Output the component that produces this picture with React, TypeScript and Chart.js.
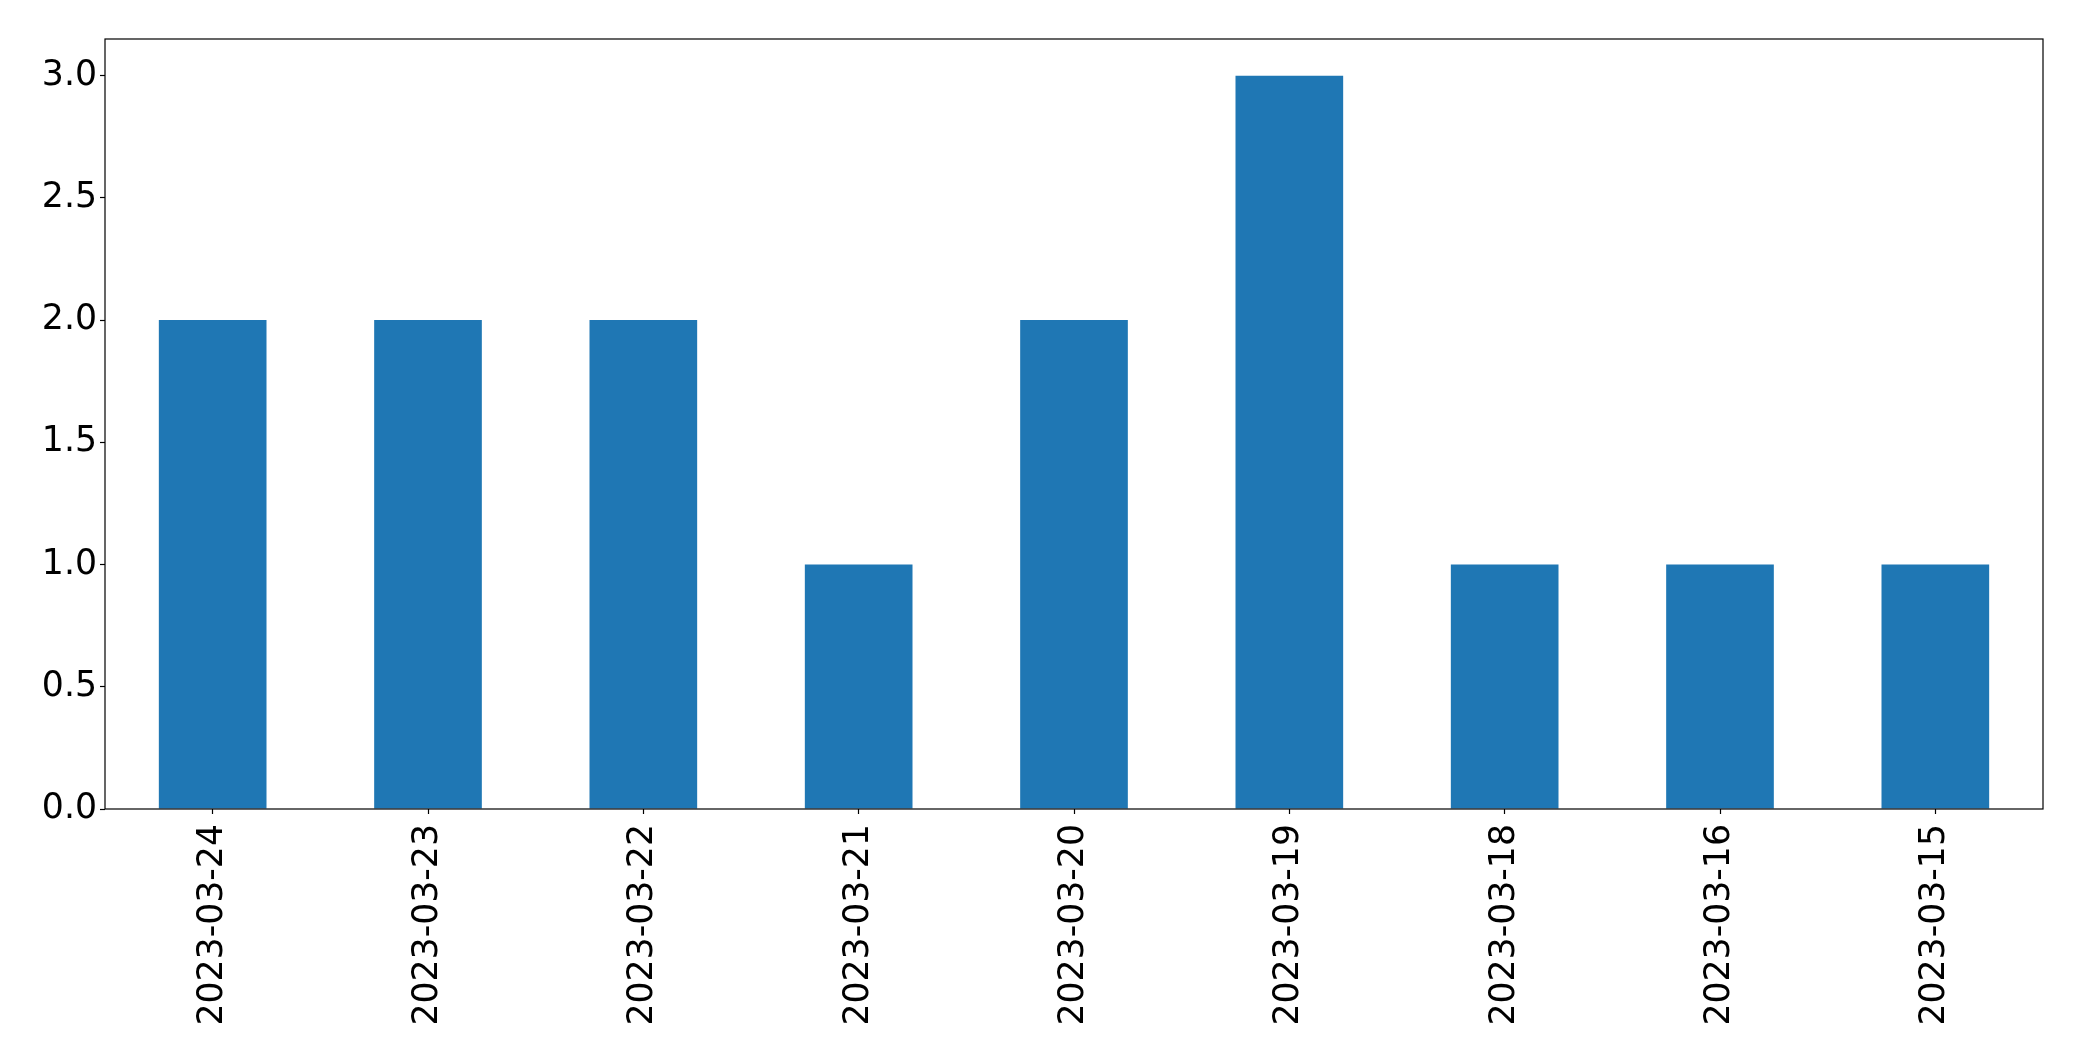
import React, { useEffect, useRef } from "react";
import { Chart, registerables } from "chart.js";

Chart.register(...registerables);

const categories = [
  "2023-03-24",
  "2023-03-23",
  "2023-03-22",
  "2023-03-21",
  "2023-03-20",
  "2023-03-19",
  "2023-03-18",
  "2023-03-16",
  "2023-03-15",
];
const counts = [2, 2, 2, 1, 2, 3, 1, 1, 1];
const yTicks = [0, 0.5, 1.0, 1.5, 2.0, 2.5, 3.0];
const yMax = 3.15;

const W = 2082;
const H = 1061;
const PLOT_LEFT = 105;
const PLOT_RIGHT = 2043;
const PLOT_TOP = 39;
const PLOT_BOTTOM = 809;

const frame = {
  id: "frame",
  afterDraw(chart: any) {
    const { ctx, chartArea } = chart;
    ctx.save();
    ctx.strokeStyle = "#000";
    ctx.lineWidth = 1.2;
    ctx.strokeRect(
      chartArea.left,
      chartArea.top,
      chartArea.right - chartArea.left,
      chartArea.bottom - chartArea.top
    );
    ctx.restore();
  },
};

export default function App() {
  const ref = useRef<HTMLCanvasElement | null>(null);
  useEffect(() => {
    if (!ref.current) return;
    const font = { family: "'DejaVu Sans', sans-serif", size: 34.7 };
    const chart = new Chart(ref.current, {
      type: "bar",
      data: {
        labels: categories,
        datasets: [
          {
            data: counts,
            backgroundColor: "#1f77b4",
            borderWidth: 0,
            categoryPercentage: 1,
            barPercentage: 0.5,
          },
        ],
      },
      plugins: [frame],
      options: {
        animation: false,
        responsive: false,
        maintainAspectRatio: false,
        layout: {
          padding: { left: 0, top: PLOT_TOP, right: W - PLOT_RIGHT, bottom: 0 },
        },
        plugins: {
          legend: { display: false },
          tooltip: { enabled: false },
        },
        scales: {
          x: {
            grid: {
              offset: false,
              drawOnChartArea: false,
              drawTicks: true,
              tickLength: 5,
              tickWidth: 1.2,
              color: "#000",
            },
            border: { display: false },
            ticks: {
              color: "#000",
              font,
              maxRotation: 90,
              minRotation: 90,
              autoSkip: false,
              padding: 10,
            },
            afterFit(scale: any) {
              scale.height = H - PLOT_BOTTOM;
            },
          },
          y: {
            min: 0,
            max: yMax,
            grid: {
              drawOnChartArea: false,
              drawTicks: true,
              tickLength: 5,
              tickWidth: 1.2,
              color: "#000",
            },
            border: { display: false },
            ticks: {
              color: "#000",
              font,
              padding: 3,
              callback: (v: any) => Number(v).toFixed(1),
            },
            afterBuildTicks(scale: any) {
              scale.ticks = yTicks.map((v) => ({ value: v }));
            },
            afterFit(scale: any) {
              scale.width = PLOT_LEFT;
            },
          },
        },
      },
    });
    return () => chart.destroy();
  }, []);
  return (
    <div style={{ position: "absolute", left: 0, top: 0, width: W, height: H, background: "#fff" }}>
      <canvas ref={ref} width={W} height={H} style={{ display: "block" }} />
    </div>
  );
}
